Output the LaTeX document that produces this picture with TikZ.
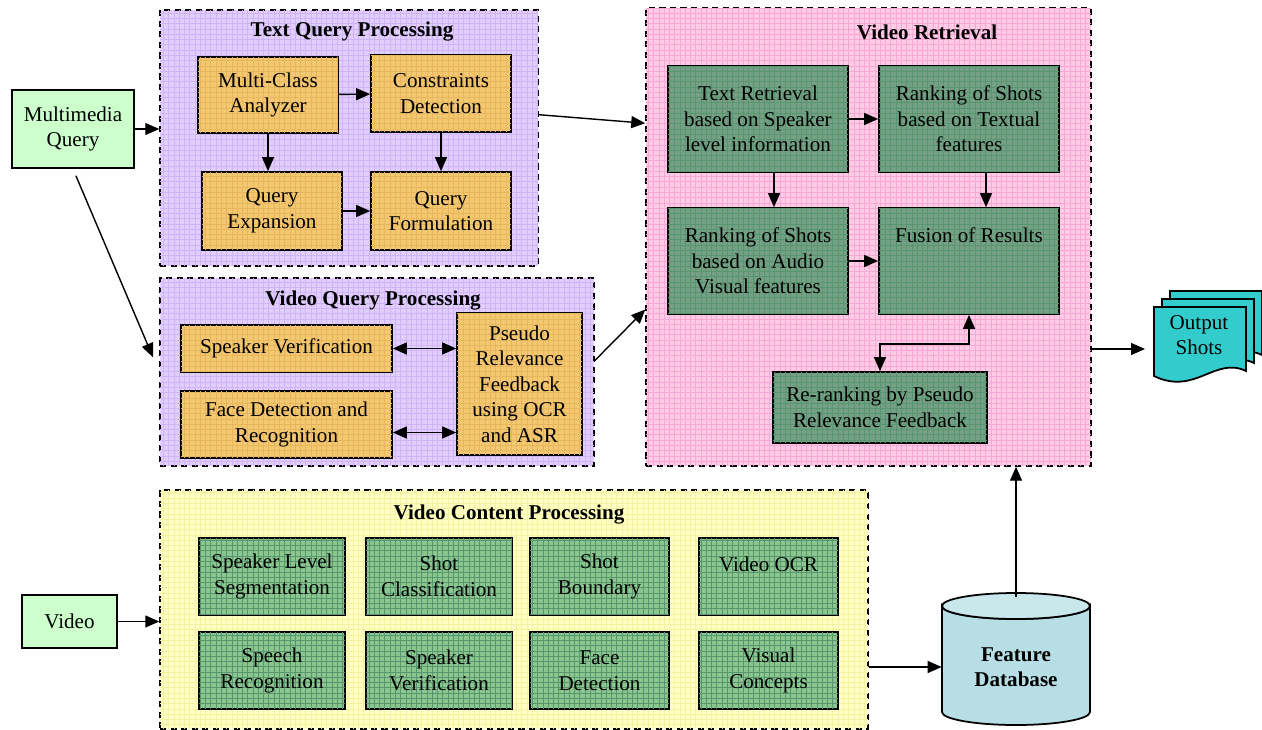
\documentclass[tikz,border=0pt]{standalone}
\usepackage{fontspec}
\setmainfont{Liberation Serif}
\usetikzlibrary{arrows.meta,positioning,patterns}

\definecolor{qpanel}{RGB}{224,206,252}
\definecolor{qgrid}{RGB}{208,180,246}
\definecolor{rpanel}{RGB}{255,202,228}
\definecolor{rgrid}{RGB}{246,168,214}
\definecolor{cpanel}{RGB}{255,255,196}
\definecolor{cgrid}{RGB}{246,242,164}
\definecolor{qorange}{RGB}{244,200,112}
\definecolor{ogrid}{RGB}{232,182,92}
\definecolor{rgreen}{RGB}{118,160,134}
\definecolor{ggrid}{RGB}{88,150,112}
\definecolor{cgreen}{RGB}{138,198,142}
\definecolor{ingreen}{RGB}{204,255,204}
\definecolor{shotcyan}{RGB}{51,204,204}
\definecolor{dbcyan}{RGB}{182,222,228}
\definecolor{dbtop}{RGB}{200,232,236}

\begin{document}
\begin{tikzpicture}[x=0.02cm, y=-0.02cm,
    >={Triangle[length=0.28cm,width=0.24cm]},
    panel/.style={draw, dash pattern=on 3.5pt off 2.5pt, line width=0.9pt},
    paneltitle/.style={font=\fontsize{12}{14}\selectfont\bfseries},
    block/.style={draw, line width=1pt, align=center, inner sep=1pt,
        font=\fontsize{12}{14.5}\selectfont},
    qbox/.style={block, fill=qorange, postaction={pattern=grid, pattern color=ogrid}},
    rbox/.style={block, fill=rgreen, postaction={pattern=grid, pattern color=ggrid}},
    cbox/.style={block, fill=cgreen, postaction={pattern=grid, pattern color=ggrid},
        minimum height=1.54cm},
    inbox/.style={block, fill=ingreen},
    link/.style={->, line width=0.8pt},
    dlink/.style={<->, line width=0.8pt}]

    \useasboundingbox (0,0) rectangle (1262,730);

    % DRAW PANELS
    \node[panel, fill=qpanel, postaction={pattern=grid, pattern color=qgrid},
        minimum width=7.56cm, minimum height=5.12cm] (tqp) at (349,138) {};
    \node[panel, fill=qpanel, postaction={pattern=grid, pattern color=qgrid},
        minimum width=8.68cm, minimum height=3.76cm] (vqp) at (377,372) {};
    \node[panel, fill=rpanel, postaction={pattern=grid, pattern color=rgrid},
        minimum width=8.9cm, minimum height=9.16cm] (vr) at (868.5,237) {};
    \node[panel, fill=cpanel, postaction={pattern=grid, pattern color=cgrid},
        minimum width=14.16cm, minimum height=4.78cm] (vcp) at (514,609.5) {};

    \node[paneltitle] (tqptitle) at (352,32) {Text Query Processing};
    \node[paneltitle] (vqptitle) at (373,301) {Video Query Processing};
    \node[paneltitle] (vrtitle) at (927,32) {Video Retrieval};
    \node[paneltitle] (vcptitle) at (509,515) {Video Content Processing};

    % INPUTS
    \node[inbox, minimum width=2.44cm, minimum height=1.56cm] (mq) at (73,129) {Multimedia\\Query};
    \node[inbox, minimum width=1.9cm, minimum height=1.06cm] (video) at (69.5,621.5) {Video};

    % TEXT QUERY PROCESSING
    \node[qbox, minimum width=2.8cm, minimum height=1.52cm] (mca) at (268,95) {Multi-Class\\Analyzer};
    \node[qbox, minimum width=2.8cm, minimum height=1.54cm] (cd) at (441,93.5) {Constraints\\Detection};
    \node[qbox, minimum width=2.8cm, minimum height=1.56cm] (qe) at (272,211) {Query\\Expansion};
    \node[qbox, minimum width=2.8cm, minimum height=1.56cm] (qf) at (441,211) {Query\\Formulation};

    \draw[link] (mca) -- (cd);
    \draw[link] (mca.south) -- (mca.south |- qe.north);
    \draw[link] (cd) -- (qf);
    \draw[link] (qe) -- (qf);

    % VIDEO QUERY PROCESSING
    \node[qbox, minimum width=4.22cm, minimum height=0.94cm] (sv) at (286.5,348.5) {Speaker Verification};
    \node[qbox, minimum width=4.22cm, minimum height=1.34cm] (fdr) at (286.5,424.5) {Face Detection and\\Recognition};
    \node[qbox, minimum width=2.5cm, minimum height=2.84cm] (prf) at (519.5,384) {Pseudo\\Relevance\\Feedback\\using OCR\\and ASR};

    \draw[dlink] (sv.east) -- (sv.east -| prf.west);
    \draw[dlink] ([yshift=-0.16cm]fdr.east) -- ([yshift=-0.16cm]fdr.east -| prf.west);

    % VIDEO RETRIEVAL
    \node[rbox, minimum width=3.6cm, minimum height=2.12cm] (tr) at (758,119) {Text Retrieval\\based on Speaker\\level information};
    \node[rbox, minimum width=3.6cm, minimum height=2.12cm] (rt) at (969,119) {Ranking of Shots\\based on Textual\\features};
    \node[rbox, minimum width=3.6cm, minimum height=2.12cm] (rav) at (758,261) {Ranking of Shots\\based on Audio\\Visual features};
    \node[rbox, minimum width=3.6cm, minimum height=2.12cm] (fus) at (969,261) {Fusion of Results\\\mbox{}\\\mbox{}};
    \node[rbox, minimum width=4.28cm, minimum height=1.42cm] (rr) at (880,407.5) {Re-ranking by Pseudo\\Relevance Feedback};

    \draw[link] (tr) -- (rt);
    \draw[link] ([xshift=0.32cm]tr.south) -- ([xshift=0.32cm]tr.south |- rav.north);
    \draw[link] ([xshift=0.34cm]rt.south) -- ([xshift=0.34cm]rt.south |- fus.north);
    \draw[link] (rav) -- (fus);
    \draw[dlink] (fus.south) -- ++(0,29) -| (rr.north);

    % VIDEO CONTENT PROCESSING
    \node[cbox, minimum width=2.92cm] (slseg) at (272,576.5) {Speaker Level\\Segmentation};
    \node[cbox, minimum width=2.92cm] (shcl) at (439,576.5) {Shot\\Classification};
    \node[cbox, minimum width=2.78cm] (shbd) at (599.5,576.5) {Shot\\Boundary};
    \node[cbox, minimum width=2.78cm] (vocr) at (768.5,576.5) {Video OCR\\\mbox{}};
    \node[cbox, minimum width=2.92cm] (sprec) at (272,670.5) {Speech\\Recognition};
    \node[cbox, minimum width=2.92cm] (spver) at (439,670.5) {Speaker\\Verification};
    \node[cbox, minimum width=2.78cm] (fdet) at (599.5,670.5) {Face\\Detection};
    \node[cbox, minimum width=2.78cm] (viscon) at (768.5,670.5) {Visual\\Concepts};

    % FEATURE DATABASE
    \filldraw[fill=dbcyan, line width=1pt] (942,606) -- (942,712) arc (180:0:74 and 13) -- (1090,606) arc (0:180:74 and 13) -- cycle;
    \filldraw[fill=dbtop, line width=1pt] (1016,606) ellipse (74 and 13);
    \node[font=\fontsize{12}{14.5}\selectfont\bfseries, align=center, minimum width=2.96cm, minimum height=2.8cm] (db) at (1016,667) {Feature\\Database};

    % OUTPUT SHOTS
    \foreach \d in {16,8,0}
        \filldraw[fill=shotcyan, line width=1pt] (1154+\d,307-\d) -- (1246+\d,307-\d) -- (1246+\d,371-\d)
            .. controls (1215+\d,356-\d) and (1195+\d,396-\d) .. (1154+\d,376-\d) -- cycle;
    \node[block, draw=none, fill=none] (shots) at (1199,335) {Output\\Shots};
    \coordinate (shotsin) at (1145,349);

    % CONNECT PANELS
    \draw[link] (mq.east) -- (mq.east -| tqp.west);
    \draw[link, shorten <=0.15cm, shorten >=0.32cm] (mq.south) -- (vqp.west);
    \draw[link] (tqp.7.5) -- (vr.153.3);
    \draw[link] (vqp.3.2) -- (vr.198.9);
    \draw[link] (shotsin -| vr.east) -- (shotsin);
    \draw[link] (video.east) -- (video.east -| vcp.west);
    \draw[link] (vcp.east |- db.west) -- (db.west);
    \draw[link] (db.north) -- (db.north |- vr.south);

\end{tikzpicture}
\end{document}
